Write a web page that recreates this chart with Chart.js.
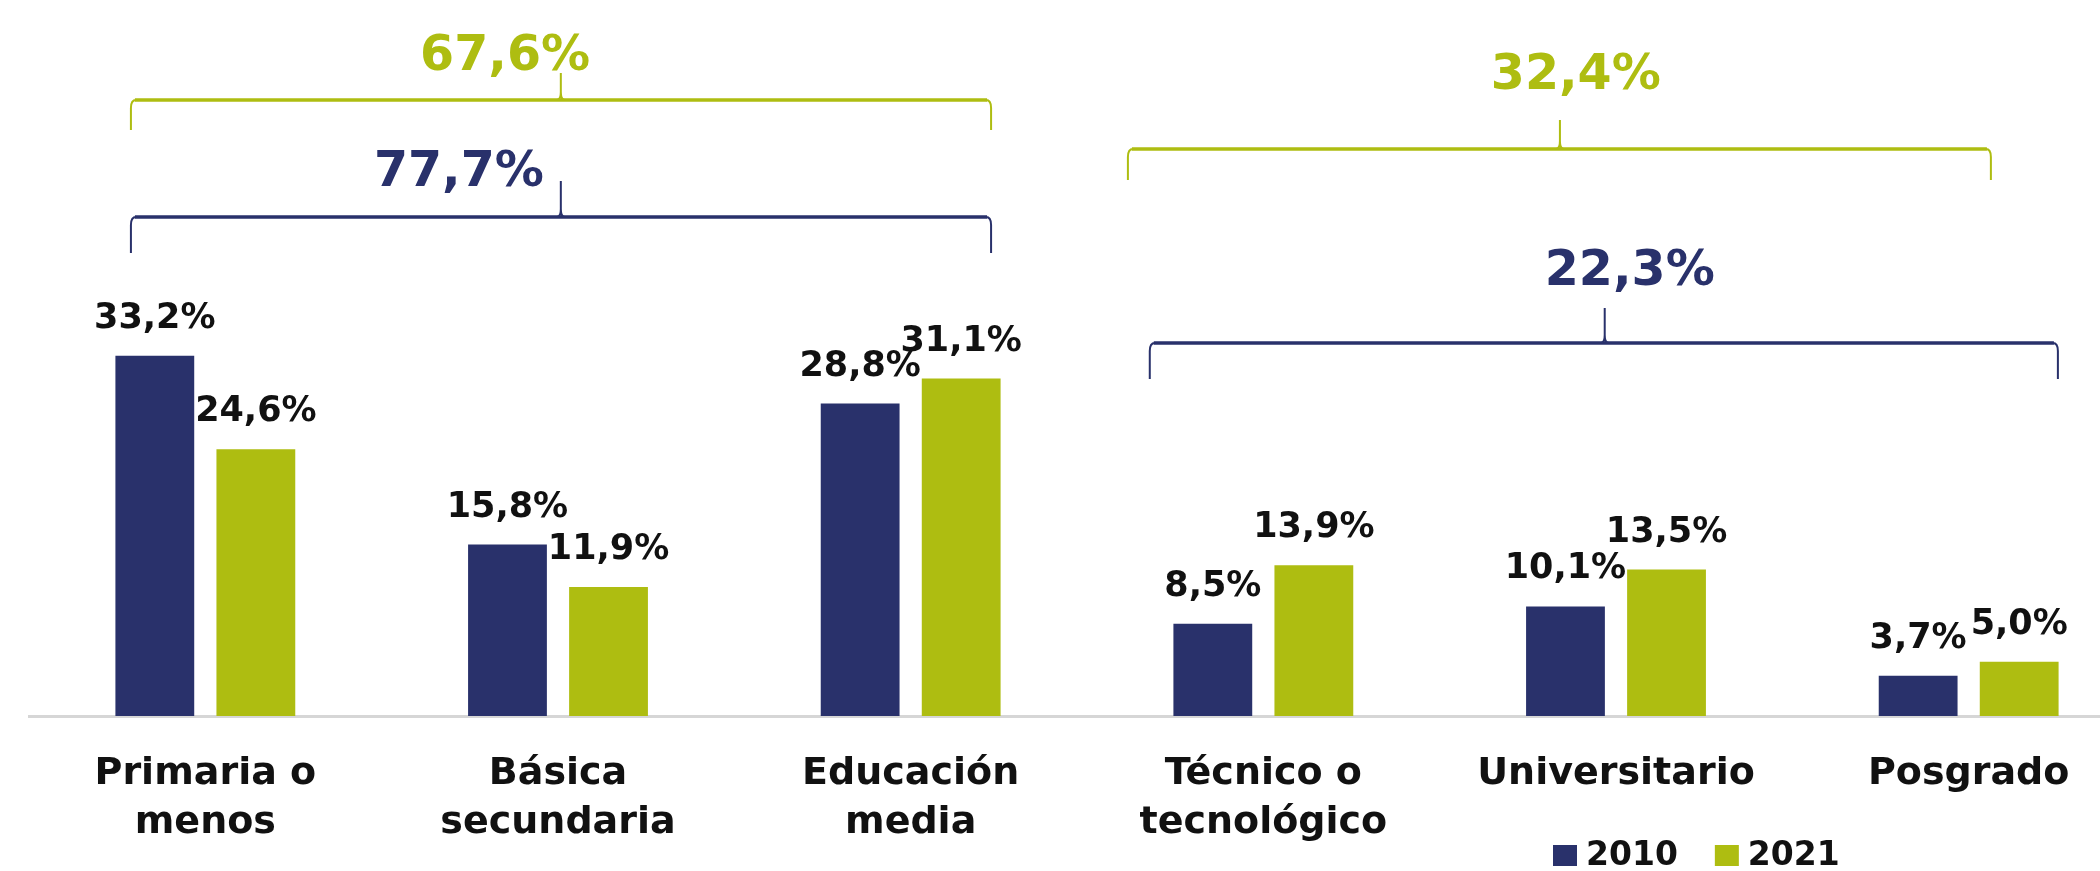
<!DOCTYPE html>
<html>
<head>
<meta charset="utf-8">
<script src="https://cdn.jsdelivr.net/npm/chart.js@4.4.1/dist/chart.umd.min.js"></script>
<style>
  html, body { margin: 0; padding: 0; background: #fff; overflow: hidden; }
  #wrap { width: 2145px; height: 871px; }
</style>
</head>
<body>
<div id="wrap"><canvas id="chart" width="2145" height="871"></canvas></div>
<script>
// Nivel educativo, 2010 vs 2021
const categories = [
  ['Primaria o', 'menos'],
  ['Básica', 'secundaria'],
  ['Educación', 'media'],
  ['Técnico o', 'tecnológico'],
  ['Universitario'],
  ['Posgrado']
];
const years = ['2010', '2021'];
const values2010 = [33.2, 15.8, 28.8, 8.5, 10.1, 3.7];
const values2021 = [24.6, 11.9, 31.1, 13.9, 13.5, 5.0];
// group totals: [basic levels, higher levels]
const totals2010 = [77.7, 22.3];
const totals2021 = [67.6, 32.4];

const NAVY = '#29316b';
const OLIVE = '#aebd11';
const FONT = '"DejaVu Sans", sans-serif';

const fmt = v => v.toFixed(1).replace('.', ',') + '%';

// bracket layout (x in category units, y in value units)
const bracketLayout = [
  { total: totals2021[0], color: OLIVE, from: -0.211, to: 2.228, tick: 1.008, labelX: 0.85, line: 56.78, tip: 54.02, tickTop: 59.27, labelY: 59.55 },
  { total: totals2010[0], color: NAVY, from: -0.211, to: 2.228, tick: 1.008, labelX: 0.719, line: 46.0, tip: 42.68, tickTop: 49.32, labelY: 48.86 },
  { total: totals2021[1], color: OLIVE, from: 2.616, to: 5.063, tick: 3.841, labelX: 3.886, line: 52.27, tip: 49.41, tickTop: 54.94, labelY: 57.8 },
  { total: totals2010[1], color: NAVY, from: 2.678, to: 5.253, tick: 3.968, labelX: 4.039, line: 34.38, tip: 31.07, tickTop: 37.61, labelY: 39.73 }
];

const valueLabels = {
  id: 'valueLabels',
  afterDatasetsDraw(chart) {
    const ctx = chart.ctx;
    ctx.save();
    ctx.font = 'bold 35px ' + FONT;
    ctx.fillStyle = '#111';
    ctx.textAlign = 'center';
    ctx.textBaseline = 'alphabetic';
    chart.data.datasets.forEach((ds, di) => {
      chart.getDatasetMeta(di).data.forEach((bar, i) => {
        ctx.fillText(fmt(ds.data[i]), bar.x, bar.y - 28);
      });
    });
    ctx.restore();
  }
};

const brackets = {
  id: 'brackets',
  afterDraw(chart) {
    const ctx = chart.ctx;
    const xs = chart.scales.x, ys = chart.scales.y;
    const p0 = xs.getPixelForValue(0), step = xs.getPixelForValue(1) - p0;
    const px = c => p0 + c * step;
    ctx.save();
    bracketLayout.forEach(b => {
      const l = px(b.from), r = px(b.to), t = px(b.tick);
      const h = ys.getPixelForValue(b.line);
      const tipY = ys.getPixelForValue(b.tip);
      const topY = ys.getPixelForValue(b.tickTop);
      ctx.strokeStyle = b.color;
      // horizontal
      ctx.lineWidth = 3.5;
      ctx.beginPath();
      ctx.moveTo(l + 4, h);
      ctx.lineTo(r - 4, h);
      ctx.stroke();
      // ends and centre tick
      ctx.lineWidth = 2;
      ctx.beginPath();
      ctx.moveTo(l, tipY);
      ctx.lineTo(l, h + 8);
      ctx.quadraticCurveTo(l, h, l + 5, h);
      ctx.moveTo(r, tipY);
      ctx.lineTo(r, h + 8);
      ctx.quadraticCurveTo(r, h, r - 5, h);
      ctx.moveTo(t, topY);
      ctx.lineTo(t, h - 8);
      ctx.quadraticCurveTo(t, h, t - 4, h);
      ctx.moveTo(t, h - 8);
      ctx.quadraticCurveTo(t, h, t + 4, h);
      ctx.stroke();
      // total label
      ctx.fillStyle = b.color;
      ctx.font = 'bold 49px ' + FONT;
      ctx.textAlign = 'center';
      ctx.textBaseline = 'alphabetic';
      ctx.fillText(fmt(b.total), px(b.labelX), ys.getPixelForValue(b.labelY));
    });
    ctx.restore();
  }
};

const bottomLegend = {
  id: 'bottomLegend',
  afterDraw(chart) {
    const ctx = chart.ctx;
    ctx.save();
    ctx.font = 'bold 33px ' + FONT;
    ctx.textBaseline = 'alphabetic';
    ctx.textAlign = 'left';
    let x = 1553;
    chart.data.datasets.forEach(ds => {
      ctx.fillStyle = ds.backgroundColor;
      ctx.fillRect(x, 845, 24, 21);
      ctx.fillStyle = '#111';
      ctx.fillText(ds.label, x + 33, 865);
      x += 33 + ctx.measureText(ds.label).width + 37;
    });
    ctx.restore();
  }
};

new Chart(document.getElementById('chart'), {
  type: 'bar',
  data: {
    labels: categories,
    datasets: [
      { label: years[0], data: values2010, backgroundColor: NAVY },
      { label: years[1], data: values2021, backgroundColor: OLIVE }
    ]
  },
  options: {
    responsive: false,
    animation: false,
    layout: { padding: { left: 29, right: 0, top: 0, bottom: 0 } },
    datasets: {
      bar: { categoryPercentage: 0.573, barPercentage: 0.78 }
    },
    plugins: {
      legend: { display: false },
      tooltip: { enabled: false }
    },
    scales: {
      x: {
        grid: { display: false, drawTicks: false },
        border: { display: true, color: '#d6d6d6', width: 3 },
        ticks: {
          color: '#111',
          padding: 34,
          font: { family: FONT, weight: 'bold', size: 38, lineHeight: 1.29 }
        },
        afterFit: scale => { scale.height = 155; }
      },
      y: {
        display: false,
        min: 0,
        max: 66
      }
    }
  },
  plugins: [valueLabels, brackets, bottomLegend]
});
</script>
</body>
</html>
